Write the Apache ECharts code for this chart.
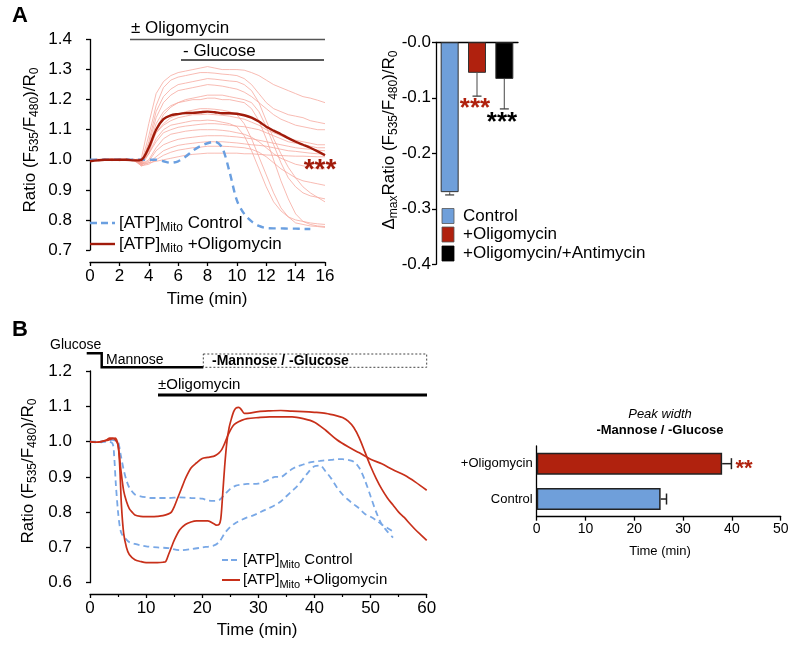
<!DOCTYPE html>
<html><head><meta charset="utf-8">
<script src="https://cdn.jsdelivr.net/npm/echarts@6/dist/echarts.min.js"></script>
<style>html,body{margin:0;padding:0;background:#fff}#c{width:800px;height:652px}</style>
</head><body><div id="c"></div>
<script>
// ---------- Panel A (left): time course ----------
const tA = [0,0.5,1,1.5,2,2.5,3,3.5,4,4.5,5,5.5,6,6.5,7,7.5,8,8.5,9,9.5,10,10.5,11,11.5,12,12.5,13,13.5,14,14.5,15,15.5,16];
const p1 = [0.995,1.0,1.002,0.998,1.0,1.003,1.0,1.005,1.12,1.22,1.26,1.28,1.29,1.295,1.30,1.305,1.31,1.305,1.30,1.30,1.30,1.298,1.29,1.28,1.265,1.25,1.24,1.23,1.22,1.21,1.205,1.198,1.19];
const p2 = [1.0,0.998,1.0,1.003,0.997,1.0,1.002,0.99,1.08,1.18,1.24,1.265,1.275,1.28,1.285,1.29,1.29,1.288,1.285,1.283,1.28,1.27,1.25,1.22,1.19,1.17,1.16,1.15,1.145,1.14,1.13,1.125,1.12];
const p3 = [0.998,1.0,1.0,0.997,1.002,1.0,0.998,0.985,1.06,1.16,1.21,1.235,1.25,1.255,1.26,1.265,1.27,1.268,1.265,1.262,1.26,1.25,1.23,1.19,1.13,1.07,1.02,0.975,0.94,0.91,0.89,0.875,0.86];
const p4 = [1.0,1.002,0.998,1.0,1.0,0.997,1.0,0.99,1.05,1.14,1.19,1.215,1.23,1.235,1.24,1.245,1.25,1.248,1.245,1.24,1.235,1.225,1.21,1.19,1.17,1.15,1.135,1.125,1.115,1.11,1.105,1.10,1.10];
const p5 = [1.0,0.996,1.0,1.002,1.0,1.0,0.997,0.98,1.02,1.10,1.15,1.175,1.19,1.20,1.205,1.21,1.215,1.215,1.215,1.21,1.205,1.20,1.19,1.16,1.11,1.05,0.99,0.94,0.91,0.89,0.88,0.875,0.87];
const p6 = [1.0,1.0,0.998,1.0,1.003,1.0,0.998,0.985,1.03,1.09,1.12,1.14,1.15,1.16,1.165,1.17,1.17,1.168,1.165,1.16,1.15,1.12,1.07,1.01,0.95,0.89,0.84,0.81,0.79,0.785,0.78,0.778,0.775];
const p7 = [0.997,1.0,1.0,0.998,1.0,1.002,1.0,0.995,1.04,1.09,1.115,1.13,1.14,1.145,1.15,1.15,1.152,1.15,1.148,1.145,1.14,1.135,1.125,1.115,1.10,1.09,1.08,1.07,1.065,1.06,1.055,1.05,1.05];
const p8 = [1.0,0.998,1.0,1.0,0.997,1.0,1.002,0.99,1.02,1.07,1.10,1.115,1.12,1.125,1.13,1.13,1.132,1.13,1.125,1.12,1.11,1.08,1.03,0.97,0.91,0.86,0.83,0.81,0.80,0.795,0.79,0.787,0.785];
const p9 = [1.0,1.0,1.002,0.998,1.0,1.0,0.997,0.99,1.02,1.06,1.09,1.10,1.108,1.112,1.115,1.118,1.12,1.12,1.118,1.115,1.112,1.11,1.105,1.10,1.09,1.08,1.07,1.06,1.055,1.05,1.045,1.04,1.04];
const p10 = [0.998,1.0,1.0,1.002,1.0,0.998,1.0,0.985,1.0,1.04,1.07,1.085,1.09,1.095,1.098,1.10,1.10,1.10,1.098,1.095,1.09,1.085,1.075,1.06,1.04,1.02,1.005,0.995,0.985,0.98,0.975,0.97,0.97];
const p11 = [1.0,1.002,0.998,1.0,1.0,1.0,0.998,0.985,0.995,1.03,1.05,1.06,1.068,1.072,1.075,1.078,1.08,1.08,1.08,1.078,1.076,1.073,1.07,1.065,1.06,1.055,1.05,1.045,1.04,1.037,1.035,1.032,1.03];
const p12 = [1.0,1.0,1.0,0.998,1.002,1.0,1.0,0.98,0.99,1.01,1.03,1.04,1.048,1.052,1.055,1.058,1.06,1.06,1.06,1.058,1.056,1.053,1.05,1.048,1.045,1.04,1.035,1.03,1.028,1.025,1.022,1.02,1.02];
const p13 = [0.998,1.0,1.0,1.0,0.998,1.0,1.002,0.98,0.985,1.0,1.015,1.025,1.032,1.036,1.04,1.042,1.045,1.045,1.045,1.044,1.042,1.04,1.035,1.025,1.01,0.99,0.97,0.955,0.94,0.93,0.925,0.92,0.915];
const p14 = [1.0,0.998,1.0,1.0,1.0,1.0,0.998,0.985,0.99,0.995,1.0,1.005,1.01,1.015,1.018,1.02,1.022,1.022,1.022,1.022,1.022,1.02,1.02,1.018,1.016,1.015,1.014,1.013,1.012,1.012,1.011,1.01,1.01];
const p15 = [1.0,1.0,0.998,1.0,1.0,1.002,1.0,0.99,1.04,1.12,1.16,1.18,1.19,1.195,1.20,1.20,1.205,1.205,1.20,1.20,1.195,1.19,1.17,1.13,1.07,1.0,0.93,0.87,0.82,0.795,0.785,0.78,0.778];
const oligoMeanA = [0.995,0.998,1.0,1.0,1.0,1.0,0.998,1.0,1.04,1.10,1.135,1.148,1.152,1.155,1.156,1.158,1.16,1.158,1.155,1.155,1.153,1.148,1.14,1.127,1.11,1.097,1.085,1.072,1.06,1.05,1.04,1.028,1.015];
const tAc = [0,1,2,3,3.5,4,4.5,5,5.5,6,6.5,7,7.5,8,8.5,9,9.5,10,10.5,11,11.5,12,12.5,13,13.5,14,14.5,15];
const controlA = [1.0,1.0,1.0,1.0,1.0,1.0,1.0,0.995,0.99,0.995,1.01,1.03,1.045,1.055,1.06,1.04,0.96,0.865,0.82,0.795,0.78,0.773,0.772,0.772,0.771,0.771,0.77,0.77];

// ---------- Panel A (right): bars ----------
const catsA2 = ['Control','+Oligomycin','+Oligomycin/+Antimycin'];
const valsA2 = [-0.27,-0.055,-0.066];
const errA2 = [0.005,0.042,0.054];

// ---------- Panel B (left): traces ----------
const tRed1 = [0,1,2,3,3.5,4,4.5,5,5.3,5.6,6,6.5,7,8,9,10,11,12,13,13.5,14,14.5,15,16,17,18,19,20,21,22,22.5,23,23.3,23.6,24,24.4,24.8,25.2,25.6,26,26.5,27,27.5,28,30,32,34,36,38,40,42,44,45,46,47,48,49,50,51,52,53,54,55,56,57,58,59,60];
const red1 = [1.0,0.998,1.0,1.005,1.01,1.01,1.005,0.99,0.93,0.82,0.74,0.70,0.68,0.665,0.66,0.657,0.657,0.657,0.658,0.66,0.68,0.70,0.72,0.75,0.765,0.772,0.775,0.775,0.775,0.768,0.763,0.765,0.78,0.84,0.93,1.0,1.04,1.065,1.085,1.095,1.097,1.09,1.08,1.08,1.085,1.087,1.088,1.086,1.085,1.083,1.08,1.073,1.068,1.058,1.04,1.01,0.97,0.93,0.895,0.865,0.84,0.82,0.80,0.785,0.767,0.75,0.735,0.72];
const tRed2 = [0,1,2,3,4,4.5,5,5.5,6,6.5,7,7.5,8,9,10,11,12,13,14,14.5,15,15.5,16,16.5,17,18,19,20,21,22,22.5,23,23.5,24,24.5,25,25.5,26,27,28,30,32,34,36,38,40,42,44,46,48,50,52,54,56,58,60];
const red2 = [1.0,0.998,1.0,1.003,1.008,1.01,0.99,0.92,0.86,0.83,0.81,0.80,0.792,0.788,0.787,0.787,0.788,0.79,0.795,0.80,0.815,0.835,0.855,0.875,0.895,0.925,0.94,0.952,0.955,0.958,0.962,0.968,0.978,0.995,1.015,1.032,1.045,1.052,1.06,1.065,1.068,1.07,1.07,1.07,1.065,1.055,1.032,1.005,0.985,0.968,0.95,0.937,0.92,0.905,0.885,0.862];
const tBlue1 = [0,1,2,3,4,4.5,5,5.5,6,6.5,7,8,9,10,11,12,14,16,18,20,21,22,23,24,25,26,27,28,29,30,31,32,33,34,35,36,37,38,39,40,41,42,43,44,45,46,47,48,49,50,51,52,53,54];
const blue1 = [1.0,0.998,1.0,1.002,1.005,1.003,1.0,0.96,0.92,0.89,0.87,0.85,0.845,0.842,0.84,0.84,0.84,0.842,0.84,0.838,0.833,0.832,0.834,0.85,0.866,0.875,0.878,0.88,0.88,0.881,0.886,0.893,0.9,0.9,0.91,0.922,0.93,0.935,0.94,0.943,0.945,0.947,0.948,0.95,0.95,0.948,0.943,0.925,0.89,0.845,0.80,0.765,0.745,0.728];
const tBlue2 = [0,1,2,3,4,4.3,4.6,5,5.3,5.6,6,6.5,7,8,9,10,12,14,16,18,20,22,23,24,25,26,27,28,29,30,31,32,33,34,35,36,37,38,39,40,41,42,43,44,45,46,47,48,49,50,51,52,53,54];
const blue2 = [1.0,1.0,0.998,1.0,0.995,0.96,0.88,0.80,0.76,0.74,0.73,0.722,0.715,0.71,0.706,0.703,0.70,0.698,0.692,0.695,0.70,0.705,0.715,0.74,0.758,0.77,0.778,0.785,0.79,0.797,0.805,0.812,0.82,0.83,0.845,0.86,0.875,0.895,0.915,0.93,0.932,0.915,0.895,0.87,0.85,0.835,0.822,0.81,0.795,0.787,0.777,0.765,0.755,0.745];

// ---------- Panel B (right): peak width ----------
const catsB2 = ['Control','+Oligomycin'];
const valsB2 = [25.4,38.0];
const errB2 = [1.2,1.9];

const FF = 'Liberation Sans, Arial, Helvetica, sans-serif';
const pinkTraces = [p1,p2,p3,p4,p5,p6,p7,p8,p9,p10,p11,p12,p13,p14,p15];
const zip = (t, v) => t.map((x, i) => [x, v[i]]);

function axisCommon(extra) {
  return Object.assign({
    axisLine: {show: true, lineStyle: {color: '#000', width: 1.3}},
    axisTick: {show: true, length: 4, lineStyle: {color: '#000', width: 1.3}},
    axisLabel: {color: '#000', fontSize: 17, fontFamily: FF},
    splitLine: {show: false}
  }, extra);
}

const chart = echarts.init(document.getElementById('c'), null, {renderer: 'canvas'});

const series = [];
pinkTraces.forEach(tr => series.push({
  type: 'line', xAxisIndex: 0, yAxisIndex: 0, data: zip(tA, tr), symbol: 'none',
  lineStyle: {color: '#f6a49a', width: 1, opacity: 0.75}, silent: true, z: 1
}));
series.push({type: 'line', xAxisIndex: 0, yAxisIndex: 0, data: zip(tAc, controlA), symbol: 'none', smooth: 0.3,
  lineStyle: {color: '#6a9fe0', width: 2.4, type: [7, 5]}, z: 2});
series.push({type: 'line', xAxisIndex: 0, yAxisIndex: 0, data: zip(tA, oligoMeanA), symbol: 'none', smooth: 0.3,
  lineStyle: {color: '#a11b0b', width: 2.4}, z: 3});

const barColorsA2 = ['#6f9fda', '#b0210e', '#000000'];
series.push({type: 'bar', xAxisIndex: 1, yAxisIndex: 1, barWidth: 18,
  data: valsA2.map((v, i) => ({value: v, itemStyle: {color: barColorsA2[i], borderColor: '#333', borderWidth: 1}}))});
series.push({type: 'custom', xAxisIndex: 1, yAxisIndex: 1, z: 5,
  data: valsA2.map((v, i) => [i, v, v - errA2[i]]),
  encode: {x: 0, y: [1, 2]},
  renderItem: function (params, api) {
    const a = api.coord([api.value(0), api.value(1)]);
    const b = api.coord([api.value(0), api.value(2)]);
    const w = 4.5;
    return {type: 'group', children: [
      {type: 'line', shape: {x1: a[0], y1: a[1], x2: b[0], y2: b[1]}, style: {stroke: '#666', lineWidth: 1.2}},
      {type: 'line', shape: {x1: b[0] - w, y1: b[1], x2: b[0] + w, y2: b[1]}, style: {stroke: '#444', lineWidth: 1.3}}
    ]};
  }});

[[tBlue1, blue1], [tBlue2, blue2]].forEach(([t, v]) => series.push({
  type: 'line', xAxisIndex: 2, yAxisIndex: 2, data: zip(t, v), symbol: 'none', smooth: 0.3,
  lineStyle: {color: '#79a8e6', width: 1.8, type: [6, 4]}, z: 2}));
[[tRed1, red1], [tRed2, red2]].forEach(([t, v]) => series.push({
  type: 'line', xAxisIndex: 2, yAxisIndex: 2, data: zip(t, v), symbol: 'none', smooth: 0.3,
  lineStyle: {color: '#c8301a', width: 1.7}, z: 3}));

const barColorsB2 = ['#6f9fda', '#b0220e'];
series.push({type: 'bar', xAxisIndex: 3, yAxisIndex: 3, barWidth: 22,
  data: valsB2.map((v, i) => ({value: v, itemStyle: {color: barColorsB2[i], borderColor: '#222', borderWidth: 1.5}}))});
series.push({type: 'custom', xAxisIndex: 3, yAxisIndex: 3, z: 5,
  data: valsB2.map((v, i) => [v, i, v + errB2[i]]),
  encode: {x: [0, 2], y: 1},
  renderItem: function (params, api) {
    const a = api.coord([api.value(0), api.value(1)]);
    const b = api.coord([api.value(2), api.value(1)]);
    const w = 5.5;
    return {type: 'group', children: [
      {type: 'line', shape: {x1: a[0], y1: a[1], x2: b[0], y2: b[1]}, style: {stroke: '#222', lineWidth: 1.5}},
      {type: 'line', shape: {x1: b[0], y1: b[1] - w, x2: b[0], y2: b[1] + w}, style: {stroke: '#222', lineWidth: 1.5}}
    ]};
  }});

function T(text, x, y, size, opts) {
  return {type: 'text', x: x, y: y, z: 10, rotation: (opts && opts.rot) || 0,
    style: Object.assign({text: text, fontSize: size, fontFamily: FF, fill: '#000', align: 'left', verticalAlign: 'middle'}, (opts && opts.style) || {})};
}
function R(text, x, y, size, sub, opts) {
  return {type: 'text', x: x, y: y, z: 10, rotation: (opts && opts.rot) || 0,
    style: {text: text, fill: '#000', align: (opts && opts.align) || 'left', verticalAlign: 'middle',
      rich: {m: {fontSize: size, fontFamily: FF, lineHeight: size + 5, verticalAlign: 'middle', fill: '#000'},
             s: {fontSize: sub, fontFamily: FF, lineHeight: sub, verticalAlign: 'bottom', fill: '#000'}}}};
}
function L(x1, y1, x2, y2, color, w, dash) {
  return {type: 'line', z: 10, shape: {x1, y1, x2, y2}, style: {stroke: color, lineWidth: w, lineDash: dash || null}};
}
const ratioLabel = '{m|Ratio (F}{s|535}{m|/F}{s|480}{m|)/R}{s|0}';

const graphic = [
  T('A', 12, 16, 22, {style: {fontWeight: 'bold'}}),
  T('B', 12, 330, 22, {style: {fontWeight: 'bold'}}),
  // Panel A left annotations
  T('± Oligomycin', 131, 28, 17),
  L(130, 39.5, 325, 39.5, '#555', 1.5),
  T('- Glucose', 183, 51.5, 17),
  L(181, 60, 324, 60, '#222', 1.5),
  R(ratioLabel, 30, 140, 17, 12, {rot: Math.PI / 2, align: 'center'}),
  T('Time (min)', 207, 299, 17, {style: {align: 'center'}}),
  L(90, 223, 115, 223, '#6a9fe0', 2.4, [7, 4]),
  R('{m|[ATP]}{s|Mito}{m| Control}', 119, 223, 17, 12),
  L(90, 244, 115, 244, '#a11b0b', 2.4),
  R('{m|[ATP]}{s|Mito}{m| +Oligomycin}', 119, 244, 17, 12),
  T('***', 320, 170, 28, {style: {align: 'center', fill: '#a11b0b', fontWeight: 'bold'}}),
  // Panel A right
  R('{m|Δ}{s|max}{m|Ratio (F}{s|535}{m|/F}{s|480}{m|)/R}{s|0}', 389, 140, 17, 12, {rot: Math.PI / 2, align: 'center'}),
  T('***', 475, 109, 26, {style: {align: 'center', fill: '#b0210e', fontWeight: 'bold'}}),
  T('***', 502, 123, 26, {style: {align: 'center', fill: '#000', fontWeight: 'bold'}}),
  {type: 'rect', z: 10, shape: {x: 442, y: 208.5, width: 12, height: 15}, style: {fill: '#6f9fda', stroke: '#555', lineWidth: 0.8}},
  {type: 'rect', z: 10, shape: {x: 442, y: 227, width: 12, height: 15}, style: {fill: '#b0210e', stroke: '#555', lineWidth: 0.8}},
  {type: 'rect', z: 10, shape: {x: 442, y: 246, width: 12, height: 15}, style: {fill: '#000', stroke: '#000', lineWidth: 0.8}},
  T('Control', 463, 216, 17),
  T('+Oligomycin', 463, 234.5, 17),
  T('+Oligomycin/+Antimycin', 463, 253.5, 17),
  // Panel B left annotations
  T('Glucose', 50, 345, 14),
  {type: 'polyline', z: 10, shape: {points: [[86.7, 353.3], [101.7, 353.3], [101.7, 367.3], [203.3, 367.3]]}, style: {stroke: '#000', lineWidth: 2.5, fill: null}},
  T('Mannose', 106, 360.5, 14),
  {type: 'rect', z: 10, shape: {x: 203.3, y: 354, width: 223.4, height: 13.3}, style: {fill: null, stroke: '#444', lineWidth: 1, lineDash: [2, 2]}},
  T('-Mannose / -Glucose', 212, 361, 14, {style: {fontWeight: 'bold'}}),
  T('±Oligomycin', 158, 385, 15),
  L(158, 395, 427, 395, '#000', 3),
  R(ratioLabel, 28, 471, 17, 12, {rot: Math.PI / 2, align: 'center'}),
  T('Time (min)', 257, 630, 17, {style: {align: 'center'}}),
  L(222, 560, 240, 560, '#79a8e6', 2, [6, 3]),
  R('{m|[ATP]}{s|Mito}{m| Control}', 243, 560, 15, 11),
  L(222, 580, 240, 580, '#c8301a', 2),
  R('{m|[ATP]}{s|Mito}{m| +Oligomycin}', 243, 580, 15, 11),
  // Panel B right
  T('Peak width', 660, 414, 13, {style: {align: 'center', fontStyle: 'italic'}}),
  T('-Mannose / -Glucose', 660, 430, 13, {style: {align: 'center', fontWeight: 'bold'}}),
  T('Time (min)', 660, 551, 13, {style: {align: 'center'}}),
  T('**', 744, 468.5, 22, {style: {align: 'center', fill: '#b0220e', fontWeight: 'bold'}})
];

const option = {
  animation: false,
  backgroundColor: '#fff',
  grid: [
    {left: 90, top: 39.5, width: 235, height: 210.5},
    {left: 436, top: 42.3, width: 82, height: 222},
    {left: 90, top: 371, width: 336.7, height: 211.7},
    {left: 536.7, top: 446, width: 244, height: 70.7}
  ],
  xAxis: [
    axisCommon({type: 'value', gridIndex: 0, min: 0, max: 16, interval: 2, offset: 12,
      axisLabel: {color: '#000', fontSize: 17, fontFamily: FF, margin: 6}}),
    {type: 'category', gridIndex: 1, data: catsA2, position: 'top',
      axisLine: {show: true, onZero: false, lineStyle: {color: '#000', width: 1.3}}, axisTick: {show: false}, axisLabel: {show: false}},
    axisCommon({type: 'value', gridIndex: 2, min: 0, max: 60, interval: 10, offset: 11.3,
      minorTick: {show: true, splitNumber: 2, length: 3, lineStyle: {color: '#000', width: 1.2}},
      axisLabel: {color: '#000', fontSize: 17, fontFamily: FF, margin: 6}}),
    axisCommon({type: 'value', gridIndex: 3, min: 0, max: 50, interval: 10,
      axisLabel: {color: '#000', fontSize: 14, fontFamily: FF, margin: 5}})
  ],
  yAxis: [
    axisCommon({type: 'value', gridIndex: 0, min: 0.7, max: 1.4, interval: 0.1, offset: 11,
      axisLabel: {color: '#000', fontSize: 17, fontFamily: FF, margin: 7, formatter: v => v.toFixed(1)}}),
    axisCommon({type: 'value', gridIndex: 1, min: -0.4, max: 0, interval: 0.1,
      axisLabel: {color: '#000', fontSize: 17, fontFamily: FF, margin: 5, formatter: v => (Math.abs(v) < 1e-9 ? '-0.0' : v.toFixed(1))}}),
    axisCommon({type: 'value', gridIndex: 2, min: 0.6, max: 1.2, interval: 0.1, offset: 11,
      axisLabel: {color: '#000', fontSize: 17, fontFamily: FF, margin: 7, formatter: v => v.toFixed(1)}}),
    {type: 'category', gridIndex: 3, data: catsB2,
      axisLine: {show: true, lineStyle: {color: '#000', width: 1.3}}, axisTick: {show: false},
      axisLabel: {color: '#000', fontSize: 13, fontFamily: FF, margin: 4}}
  ],
  series: series,
  graphic: graphic
};
chart.setOption(option);
</script></body></html>
